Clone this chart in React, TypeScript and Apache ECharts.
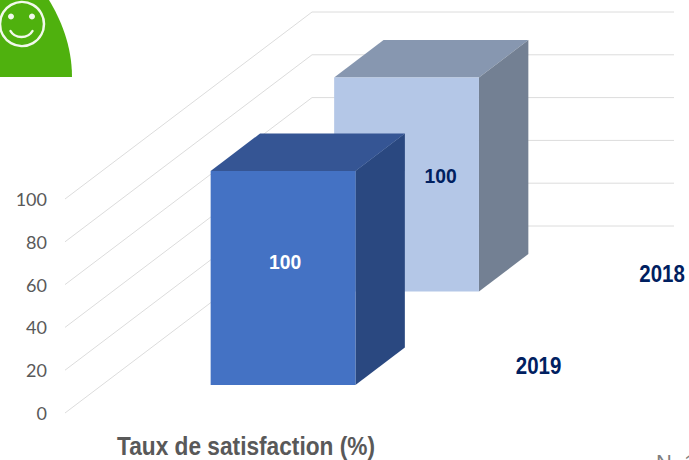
import React, { useEffect, useRef } from "react";
import * as echarts from "echarts";

const categories = ["Taux de satisfaction (%)"];
const years = ["2019", "2018"];
const satisfaction = [100, 100];
const yTicks = [0, 20, 40, 60, 80, 100];
const noteText = "N  1";

const DEPTH = { x: 247, y: -187 };
const ROW_NEAR = [0.15, 0.65];
const ROW_FAR = [0.35, 0.85];
const ROW_MID = [0.25, 0.75];
const BAR_RATIO = 0.4;
const FACE_COLORS = [
  { front: "#4472C4", top: "#355594", side: "#2A4880" },
  { front: "#B4C7E7", top: "#8797B0", side: "#738093" },
];
const LABEL_NUDGE = [
  { x: 2, y: -16 },
  { x: 34, y: -9 },
];
const SANS = "'Liberation Sans', Arial, sans-serif";

echarts.graphic.registerShape(
  "dome",
  echarts.graphic.extendPath("M0 0 L49 0 C60 18 72 45 72 77 L0 77 Z", {})
);
echarts.graphic.registerShape(
  "smile",
  echarts.graphic.extendPath("M10.5 31 C15 39 28 39 32.5 31", {})
);

function gridRender(params: any, api: any) {
  const tick = api.value(1);
  const c = api.coord([0, tick]);
  const w = api.size([1, 0])[0];
  const left = c[0] - w / 2;
  const right = c[0] + w / 2;
  return {
    type: "polyline",
    silent: true,
    shape: {
      points: [
        [left, c[1]],
        [left + DEPTH.x, c[1] + DEPTH.y],
        [right + DEPTH.x, c[1] + DEPTH.y],
      ],
    },
    style: { fill: "none", stroke: "#DCDCDC", lineWidth: 1 },
  };
}

function categoryRender(params: any, api: any) {
  const base = api.coord([api.value(0), 0]);
  return {
    type: "text",
    x: base[0],
    y: base[1] + 33,
    scaleX: 0.908,
    style: {
      text: categories[api.value(0)],
      fill: "#595959",
      font: `bold 25px ${SANS}`,
      align: "center",
      verticalAlign: "middle",
    },
  };
}

function barRender(params: any, api: any) {
  const row = api.value(2);
  const top = api.coord([0, api.value(1)]);
  const base = api.coord([0, 0]);
  const band = api.size([1, 0])[0];
  const halfW = (band * BAR_RATIO) / 2;
  const dx0 = DEPTH.x * ROW_NEAR[row];
  const dy0 = DEPTH.y * ROW_NEAR[row];
  const dx = DEPTH.x * (ROW_FAR[row] - ROW_NEAR[row]);
  const dy = DEPTH.y * (ROW_FAR[row] - ROW_NEAR[row]);
  const x0 = top[0] - halfW + dx0;
  const x1 = top[0] + halfW + dx0;
  const yT = top[1] + dy0;
  const yB = base[1] + dy0;
  const col = FACE_COLORS[row];
  const midX = DEPTH.x * ROW_MID[row];
  const midY = DEPTH.y * ROW_MID[row];
  return {
    type: "group",
    children: [
      {
        type: "polygon",
        shape: { points: [[x0, yT], [x1, yT], [x1 + dx, yT + dy], [x0 + dx, yT + dy]] },
        style: { fill: col.top },
      },
      {
        type: "polygon",
        shape: { points: [[x1, yT], [x1 + dx, yT + dy], [x1 + dx, yB + dy], [x1, yB]] },
        style: { fill: col.side },
      },
      {
        type: "rect",
        shape: { x: x0, y: yT, width: x1 - x0, height: yB - yT },
        style: { fill: col.front },
      },
      {
        type: "text",
        x: (x0 + x1) / 2 + LABEL_NUDGE[row].x,
        y: (yT + yB) / 2 + LABEL_NUDGE[row].y,
        scaleX: 0.92,
        style: {
          text: String(api.value(1)),
          fill: row === 0 ? "#FFFFFF" : "#002060",
          font: `bold 21px ${SANS}`,
          align: "center",
          verticalAlign: "middle",
        },
      },
      {
        type: "text",
        x: base[0] + band / 2 + midX + 27,
        y: base[1] + midY + (row === 1 ? 1 : 0),
        scaleX: 0.89,
        style: {
          text: years[row],
          fill: "#002060",
          font: `bold 23px ${SANS}`,
          align: "left",
          verticalAlign: "middle",
        },
      },
    ],
  };
}

export default function App() {
  const ref = useRef<HTMLDivElement>(null);
  useEffect(() => {
    document.body.style.margin = "0";
    const chart = echarts.init(ref.current!, null, { renderer: "svg" });
    chart.setOption({
      animation: false,
      backgroundColor: "#FFFFFF",
      grid: { left: 65, right: 262, top: 199, bottom: 47, containLabel: false },
      xAxis: {
        type: "category",
        data: categories,
        axisLine: { show: false },
        axisTick: { show: false },
        axisLabel: { show: false },
      },
      yAxis: {
        type: "value",
        min: 0,
        max: 100,
        interval: 20,
        axisLine: { show: false },
        axisTick: { show: false },
        splitLine: { show: false },
        axisLabel: { margin: 18, color: "#595959", fontFamily: "Lato", fontSize: 18, padding: [0, 0, 1, 0] },
      },
      series: [
        {
          type: "custom",
          renderItem: gridRender,
          data: yTicks.map((t) => [0, t]),
          encode: { x: 0, y: 1 },
          clip: false,
          silent: true,
          z: 1,
        },
        {
          type: "custom",
          renderItem: categoryRender,
          data: categories.map((_, i) => [i, 0]),
          encode: { x: 0, y: 1 },
          clip: false,
          silent: true,
          z: 1,
        },
        {
          type: "custom",
          renderItem: barRender,
          data: satisfaction.map((v, i) => [0, v, i]).reverse(),
          encode: { x: 0, y: 1 },
          clip: false,
          silent: true,
          z: 2,
        },
      ],
      graphic: [
        { type: "dome", x: 0, y: 0, style: { fill: "#4FB10E" } },
        { type: "circle", shape: { cx: 22, cy: 24, r: 22 }, style: { fill: "none", stroke: "#F2F9EC", lineWidth: 2.5 } },
        { type: "circle", shape: { cx: 11, cy: 16.5, r: 3 }, style: { fill: "#F2F9EC" } },
        { type: "circle", shape: { cx: 32, cy: 16.5, r: 3 }, style: { fill: "#F2F9EC" } },
        { type: "smile", x: 0, y: 0, style: { fill: "none", stroke: "#F2F9EC", lineWidth: 2.5, lineCap: "round" } },
        {
          type: "text",
          x: 656,
          y: 451,
          style: { text: noteText, fill: "#7F7F7F", font: `22px ${SANS}` },
        },
      ],
    });
    return () => chart.dispose();
  }, []);
  return <div ref={ref} style={{ width: 689, height: 460, overflow: "hidden" }} />;
}
